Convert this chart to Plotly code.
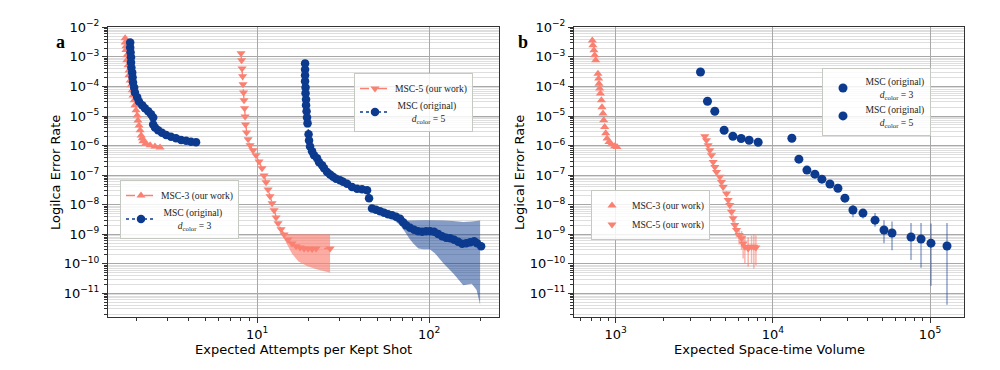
import math
import plotly.graph_objects as go

# ---------------- panel a data ----------------
a_msc3_x = [1.71, 1.71, 1.73, 1.73, 1.75, 1.75, 1.78, 1.80, 1.80, 1.83, 1.85, 1.88, 1.90, 1.93, 1.95,
            1.98, 2.01, 2.03, 2.06, 2.09, 2.12, 2.15, 2.17, 2.26, 2.39, 2.55, 2.73]
a_msc3_y = [4.25e-3, 3.1e-3, 2.3e-3, 1.7e-3, 1.13e-3, 7.7e-4, 5.2e-4, 3.5e-4, 2.4e-4, 1.6e-4, 1.1e-4,
            7.4e-5, 5.0e-5, 3.4e-5, 2.3e-5, 1.56e-5, 1.05e-5, 7.1e-6, 4.8e-6, 3.3e-6, 2.2e-6, 1.76e-6,
            1.39e-6, 1.19e-6, 1.02e-6, 9.4e-7, 8.7e-7]

a_d3_x = [1.83, 1.83, 1.84, 1.85, 1.85, 1.86, 1.88, 1.89, 1.90, 1.93, 1.95, 2.01, 2.06, 2.15, 2.23,
          2.33, 2.42, 2.49, 2.49, 2.55, 2.66, 2.80, 2.96, 3.16, 3.38, 3.62, 3.87, 4.13, 4.42]
a_d3_y = [3.1e-3, 2.1e-3, 1.43e-3, 9.7e-4, 6.5e-4, 4.4e-4, 3.0e-4, 2.04e-4, 1.38e-4, 9.3e-5, 6.3e-5,
          4.3e-5, 3.1e-5, 2.3e-5, 1.82e-5, 1.44e-5, 1.14e-5, 9.0e-6, 5.2e-6, 4.1e-6, 3.3e-6, 2.7e-6,
          2.3e-6, 1.98e-6, 1.76e-6, 1.56e-6, 1.45e-6, 1.36e-6, 1.31e-6]

a_msc5_x = [8.07, 8.13, 8.18, 8.24, 8.29, 8.35, 8.40, 8.46, 8.52, 8.57, 8.69, 8.87, 9.11, 9.48, 9.87,
            10.27, 10.69, 10.98, 11.28, 11.59, 11.90, 12.23, 12.56, 12.90, 13.25, 13.79, 14.36, 15.14,
            15.97, 16.86, 17.78, 18.76, 19.79, 20.89, 22.03, 26.58]
a_msc5_y = [1.32e-3, 7.7e-4, 4.1e-4, 2.2e-4, 1.18e-4, 6.3e-5, 3.4e-5, 1.82e-5, 9.7e-6, 5.2e-6, 2.8e-6,
            1.63e-6, 1.02e-6, 6.9e-7, 4.7e-7, 2.9e-7, 1.7e-7, 9.8e-8, 5.7e-8, 3.3e-8, 1.92e-8, 1.11e-8,
            6.5e-9, 3.7e-9, 2.34e-9, 1.47e-9, 9.9e-10, 6.7e-10, 4.9e-10, 3.9e-10, 3.6e-10, 3.3e-10,
            3.3e-10, 3.2e-10, 3.3e-10, 3.3e-10]
a_msc5_band_x = [13.25, 13.79, 14.36, 15.14, 15.97, 17.4, 19.5, 22.2, 24.5, 26.58]
a_msc5_band_hi = [2.34e-9, 1.6e-9, 1.15e-9, 1.0e-9, 1.0e-9, 1.0e-9, 1.0e-9, 1.0e-9, 1.0e-9, 1.0e-9]
a_msc5_band_lo = [2.34e-9, 1.3e-9, 7.0e-10, 4.0e-10, 2.2e-10, 1.2e-10, 8.5e-11, 6.5e-11, 5.5e-11, 5.0e-11]

a_d5_x = [19.02, 19.02, 19.02, 19.02, 19.14, 19.14, 19.27, 19.27, 19.40, 19.53, 19.66, 19.93, 20.06,
          20.33, 20.88, 21.45, 22.33, 22.94, 23.88, 24.53, 25.53, 26.57, 27.66, 28.80, 30.38, 31.62,
          33.36, 35.66, 38.13, 40.77, 43.60, 44.78, 46.62, 49.19, 51.90, 54.76, 57.78, 60.96, 64.32,
          67.87, 70.64, 73.53, 77.58, 81.86, 86.37, 91.12, 96.14, 101.4, 107.0, 112.9, 119.1, 125.7,
          132.6, 139.9, 147.6, 155.7, 164.3, 173.3, 182.9, 190.2, 200.7]
a_d5_y = [6.05e-4, 3.79e-4, 2.38e-4, 1.49e-4, 9.3e-5, 5.85e-5, 3.66e-5, 2.30e-5, 1.44e-5, 9.0e-6,
          5.65e-6, 2.40e-6, 1.50e-6, 9.4e-7, 6.4e-7, 4.7e-7, 3.7e-7, 2.71e-7, 2.15e-7, 1.70e-7, 1.29e-7,
          1.06e-7, 8.8e-8, 7.5e-8, 6.67e-8, 5.93e-8, 5.15e-8, 3.95e-8, 3.49e-8, 3.31e-8, 3.06e-8,
          1.64e-8, 7.5e-9, 6.7e-9, 5.96e-9, 5.3e-9, 4.72e-9, 4.37e-9, 3.88e-9, 3.32e-9, 2.53e-9,
          2.0e-9, 1.65e-9, 1.41e-9, 1.26e-9, 1.21e-9, 1.26e-9, 1.26e-9, 1.21e-9, 1.03e-9, 8.5e-10,
          7.57e-10, 7.28e-10, 6.48e-10, 5.54e-10, 4.74e-10, 4.93e-10, 5.33e-10, 5.76e-10, 4.93e-10,
          3.9e-10]
a_d5_band_x = [57.78, 62.0, 64.3, 67.9, 72.5, 77.5, 81.0, 86.7, 92.7, 101.0, 108.0, 121.0, 138.0,
               158.0, 177.0, 189.0, 198.0]
a_d5_band_hi = [4.7e-9, 4.0e-9, 3.6e-9, 3.2e-9, 2.9e-9, 2.9e-9, 2.95e-9, 3.0e-9, 3.0e-9, 3.0e-9,
                3.0e-9, 2.9e-9, 2.8e-9, 2.6e-9, 2.7e-9, 2.8e-9, 2.9e-9]
a_d5_band_lo = [4.7e-9, 3.5e-9, 2.6e-9, 2.0e-9, 1.2e-9, 6.6e-10, 4.9e-10, 3.3e-10, 3.1e-10, 3.1e-10,
                2.3e-10, 1.05e-10, 4.8e-11, 1.9e-11, 2.1e-11, 1.3e-11, 4.1e-12]

# ---------------- panel b data ----------------
b_msc3_x = [710, 716, 727, 735, 746, 771, 779, 783, 791, 799, 811, 818, 830, 839, 851, 864, 881, 907,
            939, 985, 1019]
b_msc3_y = [3.6e-3, 2.5e-3, 1.67e-3, 1.13e-3, 7.7e-4, 2.7e-4, 1.85e-4, 1.25e-4, 8.5e-5, 5.8e-5, 3.4e-5,
            2.0e-5, 1.21e-5, 7.2e-6, 4.3e-6, 2.6e-6, 1.74e-6, 1.33e-6, 1.11e-6, 9.5e-7, 9.0e-7]

b_msc5_x = [3690, 3780, 3875, 3970, 4070, 4170, 4275, 4380, 4600, 4710, 4825, 5070, 5190, 5320, 5455,
            5585, 5725, 5870, 6100, 6320, 6470, 6635, 6965, 7315, 7570, 7800]
b_msc5_y = [2.08e-6, 1.52e-6, 1.03e-6, 7.0e-7, 4.7e-7, 2.8e-7, 1.9e-7, 1.29e-7, 8.8e-8, 5.9e-8, 4.0e-8,
            2.4e-8, 1.43e-8, 9.7e-9, 5.8e-9, 3.5e-9, 2.05e-9, 1.39e-9, 9.4e-10, 7.3e-10, 4.9e-10,
            3.8e-10, 3.3e-10, 3.8e-10, 3.8e-10, 3.6e-10]
b_msc5_lo = [1.9e-6, 1.4e-6, 9.4e-7, 6.3e-7, 4.2e-7, 2.5e-7, 1.68e-7, 1.12e-7, 7.6e-8, 5.0e-8, 3.3e-8,
             1.95e-8, 1.12e-8, 7.3e-9, 4.2e-9, 2.4e-9, 1.3e-9, 8.0e-10, 4.5e-10, 3.0e-10, 1.5e-10,
             1.0e-10, 8.0e-11, 1.0e-10, 7.0e-11, 9.0e-11]
b_msc5_hi = [2.25e-6, 1.65e-6, 1.12e-6, 7.7e-7, 5.2e-7, 3.1e-7, 2.1e-7, 1.46e-7, 1.0e-7, 6.8e-8, 4.7e-8,
             2.9e-8, 1.75e-8, 1.2e-8, 7.5e-9, 4.6e-9, 2.9e-9, 2.1e-9, 1.5e-9, 1.3e-9, 1.0e-9, 9.0e-10,
             8.0e-10, 9.0e-10, 1.0e-9, 9.0e-10]

b_d3_x = [3463, 3837, 4272, 4897, 5564, 6282, 7063, 8060]
b_d3_y = [3.1e-4, 3.16e-5, 1.45e-5, 3.3e-6, 2.08e-6, 1.74e-6, 1.52e-6, 1.3e-6]

b_d5_x = [13210, 14640, 16470, 18510, 20510, 23070, 25940, 28740, 32320, 37430, 44670, 50930, 57300,
          75700, 87660, 101400, 128200]
b_d5_y = [1.78e-6, 3.47e-7, 1.48e-7, 1.08e-7, 7.3e-8, 5.0e-8, 3.6e-8, 1.67e-8, 6.6e-9, 5.2e-9, 3.0e-9,
          1.39e-9, 1.1e-9, 8.1e-10, 6.9e-10, 5.0e-10, 4.0e-10]
b_d5_lo = [1.7e-6, 3.3e-7, 1.4e-7, 1.0e-7, 6.7e-8, 4.5e-8, 3.2e-8, 1.4e-8, 3.8e-9, 3.4e-9, 1.8e-9,
           5.0e-10, 2.9e-10, 1.34e-10, 7.4e-11, 1.8e-11, 4.1e-12]
b_d5_hi = [1.86e-6, 3.65e-7, 1.56e-7, 1.16e-7, 8.0e-8, 5.5e-8, 4.0e-8, 2.0e-8, 9.8e-9, 6.5e-9, 5.2e-9,
           3.0e-9, 2.7e-9, 2.4e-9, 2.4e-9, 2.3e-9, 2.4e-9]

# ---------------- tick labels ----------------
y_tickvals = [1e-2, 1e-3, 1e-4, 1e-5, 1e-6, 1e-7, 1e-8, 1e-9, 1e-10, 1e-11]
y_ticktext = ["10<sup>\u22122</sup>", "10<sup>\u22123</sup>", "10<sup>\u22124</sup>", "10<sup>\u22125</sup>",
              "10<sup>\u22126</sup>", "10<sup>\u22127</sup>", "10<sup>\u22128</sup>", "10<sup>\u22129</sup>",
              "10<sup>\u221210</sup>", "10<sup>\u221211</sup>"]
a_x_tickvals = [10, 100]
a_x_ticktext = ["10<sup>1</sup>", "10<sup>2</sup>"]
b_x_tickvals = [1e3, 1e4, 1e5]
b_x_ticktext = ["10<sup>3</sup>", "10<sup>4</sup>", "10<sup>5</sup>"]

SALMON = "#FA8072"
NAVY = "#0c3a8e"
SALMON_FILL = "rgba(250,128,114,0.65)"
NAVY_FILL = "rgba(12,58,142,0.5)"
SALMON_ERR = "rgba(250,128,114,0.6)"
NAVY_ERR = "rgba(12,58,142,0.35)"

D3 = "\u00a0MSC (original)<br>\u00a0\u00a0\u00a0\u00a0\u00a0\u00a0\u00a0<i>d</i><sub>color</sub> = 3"
D5 = "\u00a0MSC (original)<br>\u00a0\u00a0\u00a0\u00a0\u00a0\u00a0\u00a0<i>d</i><sub>color</sub> = 5"

fig = go.Figure()


def band(xs, lo, hi, color, xa, ya):
    return go.Scatter(x=list(xs) + list(xs)[::-1], y=list(hi) + list(lo)[::-1], fill="toself",
                      fillcolor=color, line=dict(width=0), mode="lines", hoverinfo="skip",
                      showlegend=False, xaxis=xa, yaxis=ya)


# panel a bands
fig.add_trace(band(a_msc5_band_x, a_msc5_band_lo, a_msc5_band_hi, SALMON_FILL, "x", "y"))
fig.add_trace(band(a_d5_band_x, a_d5_band_lo, a_d5_band_hi, NAVY_FILL, "x", "y"))

# panel a series
fig.add_trace(go.Scatter(x=a_msc3_x, y=a_msc3_y, mode="lines+markers", name="MSC-3 (our work)",
                         line=dict(color=SALMON, dash="dash", width=1.3),
                         marker=dict(symbol="triangle-up", size=8, color=SALMON),
                         legend="legend", xaxis="x", yaxis="y"))
fig.add_trace(go.Scatter(x=a_d3_x, y=a_d3_y, mode="lines+markers", name=D3,
                         line=dict(color=NAVY, dash="dot", width=1.5),
                         marker=dict(symbol="circle", size=8.5, color=NAVY),
                         legend="legend", xaxis="x", yaxis="y"))
fig.add_trace(go.Scatter(x=a_msc5_x, y=a_msc5_y, mode="lines+markers", name="MSC-5 (our work)",
                         line=dict(color=SALMON, dash="dash", width=1.3),
                         marker=dict(symbol="triangle-down", size=8, color=SALMON),
                         legend="legend2", xaxis="x", yaxis="y"))
fig.add_trace(go.Scatter(x=a_d5_x, y=a_d5_y, mode="lines+markers", name=D5,
                         line=dict(color=NAVY, dash="dot", width=1.5),
                         marker=dict(symbol="circle", size=8.5, color=NAVY),
                         legend="legend2", xaxis="x", yaxis="y"))

# panel b series
fig.add_trace(go.Scatter(x=b_d3_x, y=b_d3_y, mode="markers", name=D3,
                         marker=dict(symbol="circle", size=9, color=NAVY),
                         legend="legend3", xaxis="x2", yaxis="y2"))
fig.add_trace(go.Scatter(x=b_d5_x, y=b_d5_y, mode="markers", name=D5,
                         marker=dict(symbol="circle", size=9, color=NAVY),
                         error_y=dict(type="data", symmetric=False,
                                      array=[h - v for h, v in zip(b_d5_hi, b_d5_y)],
                                      arrayminus=[v - l for l, v in zip(b_d5_lo, b_d5_y)],
                                      color=NAVY_ERR, thickness=2, width=0),
                         legend="legend3", xaxis="x2", yaxis="y2"))
fig.add_trace(go.Scatter(x=b_msc3_x, y=b_msc3_y, mode="markers", name="MSC-3 (our work)",
                         marker=dict(symbol="triangle-up", size=8, color=SALMON),
                         legend="legend4", xaxis="x2", yaxis="y2"))
fig.add_trace(go.Scatter(x=b_msc5_x, y=b_msc5_y, mode="markers", name="MSC-5 (our work)",
                         marker=dict(symbol="triangle-down", size=8, color=SALMON),
                         error_y=dict(type="data", symmetric=False,
                                      array=[h - v for h, v in zip(b_msc5_hi, b_msc5_y)],
                                      arrayminus=[v - l for l, v in zip(b_msc5_lo, b_msc5_y)],
                                      color=SALMON_ERR, thickness=1.5, width=0),
                         legend="legend4", xaxis="x2", yaxis="y2"))

y_minor = [k * 10 ** e for e in range(-12, -2) for k in range(2, 10)]
a_x_minor = [k * 10 ** e for e in range(0, 3) for k in range(2, 10)]
b_x_minor = [k * 10 ** e for e in range(2, 6) for k in range(2, 10)]

TICKFONT = dict(family="DejaVu Sans", size=13, color="black")
GRID_MAJOR = "#a8a8a8"
GRID_MINOR = "#dedede"
LINE = "#333333"

common_y = dict(type="log", range=[-11.81, -2.0], tickmode="array", tickvals=y_tickvals,
                ticktext=y_ticktext, ticks="outside", ticklen=5, tickcolor=LINE, tickfont=TICKFONT,
                showgrid=True, gridcolor=GRID_MAJOR, gridwidth=1,
                minor=dict(tickmode="array", tickvals=y_minor, ticks="outside", ticklen=3,
                           tickcolor=LINE, showgrid=True, gridcolor=GRID_MINOR, gridwidth=0.8),
                showline=True, linecolor=LINE, linewidth=1, mirror=True, zeroline=False,
                domain=[0.1424, 0.926], automargin=False)

common_x = dict(type="log", ticks="outside", ticklen=5, tickcolor=LINE, tickfont=TICKFONT,
                showgrid=True, gridcolor=GRID_MAJOR, gridwidth=1,
                showline=True, linecolor=LINE, linewidth=1, mirror=True, zeroline=False,
                tickmode="array", automargin=False)

legend_common = dict(xanchor="left", yanchor="top", bgcolor="rgba(255,255,255,0.85)",
                     bordercolor="#c4c9c2", borderwidth=1,
                     font=dict(family="Liberation Serif", size=9.6, color="#222"),
                     itemwidth=30, tracegroupgap=0)

fig.update_layout(
    width=1000, height=370, margin=dict(l=0, r=0, t=0, b=0, autoexpand=False),
    plot_bgcolor="white", paper_bgcolor="white",
    xaxis=dict(common_x, domain=[0.108, 0.499], anchor="y",
               range=[math.log10(1.36), math.log10(255)],
               tickvals=a_x_tickvals, ticktext=a_x_ticktext,
               minor=dict(tickmode="array", tickvals=a_x_minor, ticks="outside", ticklen=3,
                          tickcolor=LINE, showgrid=False)),
    yaxis=dict(common_y, anchor="x"),
    xaxis2=dict(common_x, domain=[0.574, 0.9643], anchor="y2",
                range=[2.7347, 5.218],
                tickvals=b_x_tickvals, ticktext=b_x_ticktext,
                minor=dict(tickmode="array", tickvals=b_x_minor, ticks="outside", ticklen=3,
                           tickcolor=LINE, showgrid=False)),
    yaxis2=dict(common_y, anchor="x2"),
    legend=dict(legend_common, x=0.120, y=1 - 180 / 370),
    legend2=dict(legend_common, x=0.354, y=1 - 73 / 370),
    legend3=dict(legend_common, x=0.822, y=1 - 68 / 370),
    legend4=dict(legend_common, x=0.591, y=1 - 190 / 370),
    showlegend=True,
)

TITLEFONT = dict(family="DejaVu Sans", size=13, color="black")
annos = [
    dict(text="Expected Attempts per Kept Shot", x=0.3035, y=1 - 349 / 370, textangle=0),
    dict(text="Expected Space-time Volume", x=0.769, y=1 - 349 / 370, textangle=0),
    dict(text="Logilca Error Rate", x=0.055, y=1 - 173 / 370, textangle=-90),
    dict(text="Logical Error Rate", x=0.519, y=1 - 173 / 370, textangle=-90),
]
for a in annos:
    fig.add_annotation(xref="paper", yref="paper", showarrow=False, font=TITLEFONT,
                       xanchor="center", yanchor="middle", **a)

fig.add_annotation(text="<b>a</b>", x=0.054, y=1 - 30 / 370, xref="paper", yref="paper",
                   showarrow=False, font=dict(family="Liberation Serif", size=18, color="black"))
fig.add_annotation(text="<b>b</b>", x=0.523, y=1 - 30 / 370, xref="paper", yref="paper",
                   showarrow=False, font=dict(family="Liberation Serif", size=18, color="black"))

fig.write_html("out.html", config={"displayModeBar": False},
               post_script="document.body.style.margin='0';")
